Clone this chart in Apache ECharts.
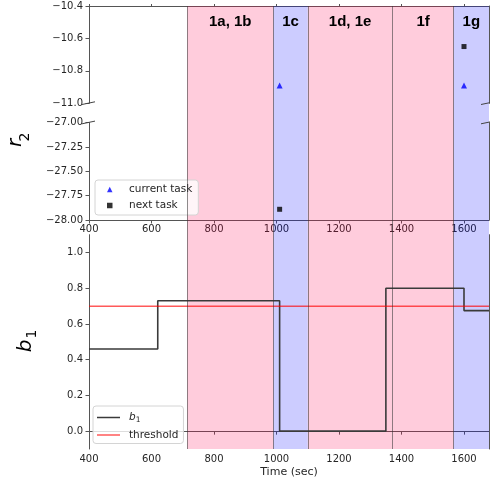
<!DOCTYPE html>
<html><head><meta charset="utf-8">
<script src="https://cdn.jsdelivr.net/npm/echarts@6/dist/echarts.min.js"></script>
<style>html,body{margin:0;padding:0;background:#fff}#c{width:490px;height:480px}</style>
</head><body><div id="c"></div>
<script>
// ---- data ----
const xTicks = [400, 600, 800, 1000, 1200, 1400, 1600];
const r2TicksUpper = [-11.0, -10.8, -10.6, -10.4];
const r2TicksLower = [-28.0, -27.75, -27.5, -27.25, -27.0];
const b1Ticks = [0.0, 0.2, 0.4, 0.6, 0.8, 1.0];

const currentTaskX = [1010, 1600];
const currentTaskY = [-10.89, -10.89];
const nextTaskX = [1010, 1600];
const nextTaskY = [-27.89, -10.65];

const b1X = [400, 620, 1010, 1350, 1600, 1680];
const b1Y = [0.46, 0.73, 0.0, 0.80, 0.675, 0.675];
const thresholdX = [400, 1680];
const thresholdY = [0.7, 0.7];

const phaseStart = [714, 990, 1100, 1371, 1567];
const phaseEnd = [990, 1100, 1371, 1567, 1680];
const phaseLabel = ['1a, 1b', '1c', '1d, 1e', '1f', '1g'];
const phaseKind = ['pink', 'blue', 'pink', 'pink', 'blue'];

// ---- ranges ----
const X_MIN = 400, X_MAX = 1680;
const UPPER = [-11.0, -10.4], LOWER = [-28.0, -27.0], B1R = [-0.1, 1.1];

// ---- layout ----
const L = 89, W = 400;
const G0 = {left: L, width: W, top: 6, height: 97.3};
const G1 = {left: L, width: W, top: 122.6, height: 97.4};
const G2 = {left: L, width: W, top: 234.7, height: 214.3};
const G3 = {left: L, width: W, top: 6, height: 443};
const FONT = '"DejaVu Sans", sans-serif';
const AX = '#555';
const TXT = '#262626';
const kindColor = {pink: 'rgba(255,0,80,0.2)', blue: 'rgba(0,0,255,0.2)'};

const fmt = d => v => (v < 0 ? '\u2212' : '') + Math.abs(v).toFixed(d);
const zip = (xs, ys) => xs.map((x, i) => [x, ys[i]]);
const inR = (r) => p => p[1] >= r[0] && p[1] <= r[1];

const lineOnly = (g, pos) => ({
  type: 'value', gridIndex: g, position: pos, min: X_MIN, max: X_MAX,
  axisLine: {show: true, lineStyle: {color: AX, width: 1}},
  axisTick: {show: false}, axisLabel: {show: false}, splitLine: {show: false}
});
const yLineOnly = (g, r) => ({
  type: 'value', gridIndex: g, position: 'right', min: r[0], max: r[1],
  axisLine: {show: true, lineStyle: {color: AX, width: 1}},
  axisTick: {show: false}, axisLabel: {show: false}, splitLine: {show: false}
});
const xLab = (g, margin) => ({
  type: 'value', gridIndex: g, position: 'bottom', min: X_MIN, max: X_MAX,
  axisLine: {show: true, lineStyle: {color: AX, width: 1}},
  axisTick: {show: true, length: 3.5, lineStyle: {color: AX}, customValues: xTicks},
  axisLabel: {show: true, customValues: xTicks, margin: margin, fontSize: 10, fontFamily: FONT, color: TXT,
    formatter: v => String(v)},
  splitLine: {show: false}
});
const yLab = (g, r, ticks, d) => ({
  type: 'value', gridIndex: g, position: 'left', min: r[0], max: r[1],
  axisLine: {show: true, lineStyle: {color: AX, width: 1}},
  axisTick: {show: true, length: 3.5, lineStyle: {color: AX}, customValues: ticks},
  axisLabel: {show: true, customValues: ticks, margin: 6, fontSize: 10, fontFamily: FONT, color: TXT, formatter: fmt(d)},
  splitLine: {show: false}
});

const xTop0 = lineOnly(0, 'top');
xTop0.axisTick = {show: true, length: 2, lineStyle: {color: AX}, customValues: xTicks};
const xBottom2 = xLab(2, 5);
Object.assign(xBottom2, {name: 'Time (sec)', nameLocation: 'middle', nameGap: 18,
  nameTextStyle: {fontSize: 11, fontFamily: FONT, color: TXT}});

const curPts = zip(currentTaskX, currentTaskY);
const nxtPts = zip(nextTaskX, nextTaskY);

const scat = (name, xi, yi, data, symbol, size, color) => ({
  name, type: 'scatter', xAxisIndex: xi, yAxisIndex: yi, data, symbol, symbolSize: size,
  itemStyle: {color}, z: 3
});

const legendBox = {
  orient: 'vertical', borderColor: '#d4d4d4', borderWidth: 1, borderRadius: 3,
  backgroundColor: 'rgba(255,255,255,0.8)'
};

const option = {
  animation: false,
  backgroundColor: '#fff',
  grid: [G0, G1, G2, G3].map(g => Object.assign({outerBoundsMode: 'none', containLabel: false}, g)),
  xAxis: [
    xTop0,            // 0 grid0 top spine
    xLab(1, 4),       // 1 grid1 bottom
    xBottom2,         // 2 grid2 bottom
    lineOnly(2, 'top'), // 3 grid2 top spine
    Object.assign(lineOnly(3, 'bottom'), {show: false}) // 4 overlay
  ],
  yAxis: [
    yLab(0, UPPER, r2TicksUpper, 1),  // 0
    yLab(1, LOWER, r2TicksLower, 2),  // 1
    yLab(2, B1R, b1Ticks, 1),         // 2
    yLineOnly(0, UPPER),              // 3
    yLineOnly(1, LOWER),              // 4
    yLineOnly(2, B1R),                // 5
    {type: 'value', gridIndex: 3, min: 0, max: 1, show: false} // 6
  ],
  legend: [
    Object.assign({}, legendBox, {
      data: [{name: 'current task', icon: 'triangle'}, {name: 'next task', icon: 'rect'}],
      left: 95, top: 180, padding: [4, 6, 4, 12], itemWidth: 5.5, itemHeight: 5.5, itemGap: 5,
      textStyle: {fontSize: 10.5, fontFamily: FONT, color: TXT, padding: [0, 0, 0, 11.5]}
    }),
    Object.assign({}, legendBox, {
      data: [{name: 'b1', icon: 'rect'}, {name: 'threshold', icon: 'rect'}],
      left: 93, top: 406, padding: [6, 5, 3, 4], itemWidth: 23, itemHeight: 1.5, itemGap: 5,
      formatter: n => n === 'b1' ? '{i|b}{s|1}' : n,
      textStyle: {fontSize: 10.5, fontFamily: FONT, color: TXT, padding: [0, 0, 0, 4],
        rich: {i: {fontSize: 10.5, fontStyle: 'italic', fontFamily: FONT, color: TXT},
               s: {fontSize: 7.5, fontFamily: FONT, color: TXT, verticalAlign: 'bottom', padding: [6, 0, 0, 0]}}}
    })
  ],
  series: [
    scat('current task', 0, 0, curPts.filter(inR(UPPER)), 'triangle', 6, '#0000ff'),
    scat('current task', 1, 1, curPts.filter(inR(LOWER)), 'triangle', 6, '#0000ff'),
    scat('next task', 0, 0, nxtPts.filter(inR(UPPER)), 'rect', 5, '#000'),
    scat('next task', 1, 1, nxtPts.filter(inR(LOWER)), 'rect', 5, '#000'),
    {
      name: 'b1', type: 'line', xAxisIndex: 2, yAxisIndex: 2, step: 'end',
      data: zip(b1X, b1Y), showSymbol: false, symbol: 'none',
      lineStyle: {color: '#3a3a3a', width: 1.6}, itemStyle: {color: '#3a3a3a'}, z: 3
    },
    {
      name: 'threshold', type: 'line', xAxisIndex: 2, yAxisIndex: 2,
      data: zip(thresholdX, thresholdY), showSymbol: false, symbol: 'none',
      lineStyle: {color: 'rgba(255,0,0,0.65)', width: 1.5}, itemStyle: {color: 'rgba(255,0,0,0.65)'}, z: 3
    },
    {
      name: 'phases', type: 'line', xAxisIndex: 4, yAxisIndex: 6, data: [], silent: true, z: 6,
      markArea: {
        silent: true,
        data: phaseStart.map((s, i) => [
          {xAxis: s, name: phaseLabel[i], itemStyle: {color: kindColor[phaseKind[i]]}},
          {xAxis: phaseEnd[i]}
        ]),
        label: {show: true, position: 'insideTop', distance: 8, color: '#000',
          fontFamily: '"Liberation Sans", Arial, sans-serif', fontWeight: 'bold', fontSize: 15}
      },
      markLine: {
        silent: true, symbol: ['none', 'none'], label: {show: false},
        lineStyle: {color: 'rgba(50,50,50,0.55)', width: 1, type: 'solid'},
        data: phaseStart.map(x => ({xAxis: x}))
      }
    }
  ]
};

// break marks and axis titles (decorations)
const brk = (x, y) => ({type: 'line', shape: {x1: x - 7, y1: y + 1.2, x2: x + 6, y2: y - 1.5},
  style: {stroke: '#444', lineWidth: 1}, z: 100});
const yb0 = G0.top + G0.height, yt1 = G1.top, xr = L + W;
const rot = Math.PI / 2;
const t = (x, y, text, size, italic) => ({type: 'text', x, y, rotation: rot, z: 100,
  style: {text, font: (italic ? 'italic ' : '') + size + 'px ' + FONT, fill: '#000', align: 'center', verticalAlign: 'middle'}});
option.graphic = [
  brk(L, yb0), brk(L, yt1), brk(xr - 1, yb0), brk(xr - 1, yt1),
  t(16, 143, 'r', 20, true), t(25, 137, '2', 14, false),
  t(26, 346, 'b', 20, true), t(32, 334, '1', 14, false)
];

const chart = echarts.init(document.getElementById('c'), null, {renderer: 'canvas'});
chart.setOption(option);
</script></body></html>
